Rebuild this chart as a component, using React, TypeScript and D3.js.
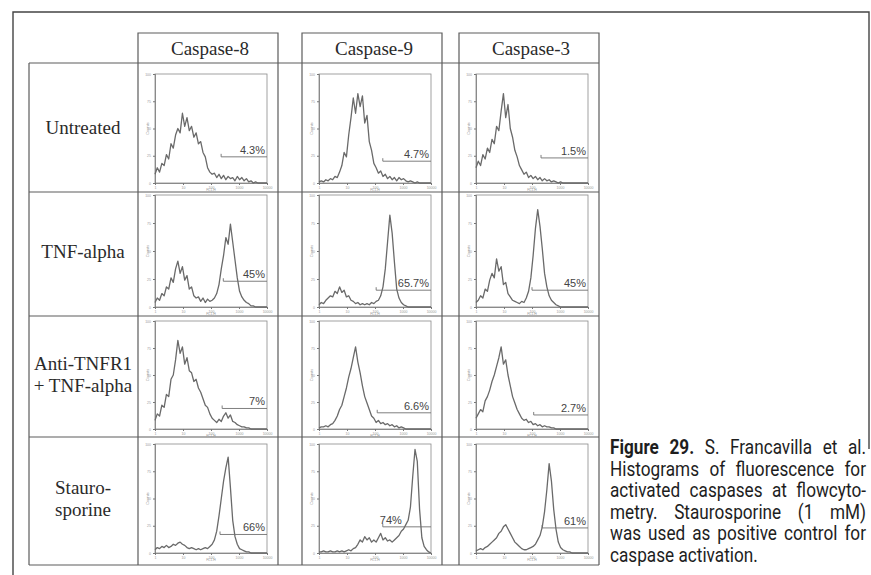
import React, { useEffect, useRef } from 'react';
import * as d3 from 'd3';

const caspases = ['Caspase-8', 'Caspase-9', 'Caspase-3'];
const treatments = [['Untreated'], ['TNF-alpha'], ['Anti-TNFR1', '+ TNF-alpha'], ['Stauro-', 'sporine']];

// events per channel, 50 log-spaced channels from 10^0 to 10^4 (% of full scale)
const untreatedC8 = [8, 14, 10, 18, 16, 26, 22, 36, 32, 44, 50, 46, 64, 52, 60, 48, 52, 42, 46, 36, 38, 28, 24, 14, 10, 8, 9, 5, 8, 4, 7, 3, 6, 4, 5, 2, 6, 3, 5, 2, 4, 1, 2, 0, 1, 0, 0, 0, 0, 0];
const untreatedC9 = [1, 2, 1, 3, 2, 4, 3, 6, 5, 10, 16, 28, 24, 44, 60, 78, 64, 82, 70, 80, 55, 62, 38, 30, 18, 14, 9, 11, 6, 8, 4, 6, 3, 5, 2, 5, 3, 4, 2, 1, 2, 1, 0, 1, 0, 0, 0, 0, 0, 0];
const untreatedC3 = [14, 20, 16, 26, 22, 32, 28, 40, 36, 52, 48, 66, 82, 60, 72, 50, 42, 30, 24, 16, 12, 8, 10, 5, 7, 4, 6, 3, 5, 2, 4, 2, 3, 1, 2, 1, 0, 1, 0, 0, 0, 0, 0, 0, 0, 0, 0, 0, 0, 0];
const tnfC8 = [4, 8, 6, 12, 10, 18, 16, 26, 22, 34, 41, 30, 36, 24, 28, 16, 18, 10, 8, 9, 5, 8, 4, 7, 5, 6, 8, 12, 20, 34, 46, 62, 56, 74, 58, 42, 26, 14, 9, 6, 4, 3, 1, 1, 0, 0, 0, 0, 0, 0];
const tnfC9 = [2, 4, 3, 6, 8, 10, 9, 14, 12, 18, 13, 15, 9, 10, 6, 5, 3, 4, 2, 3, 2, 3, 2, 4, 3, 5, 6, 10, 18, 34, 58, 82, 66, 40, 16, 8, 4, 2, 1, 0, 0, 0, 0, 0, 0, 0, 0, 0, 0, 0];
const tnfC3 = [4, 6, 10, 8, 16, 14, 24, 30, 26, 43, 32, 36, 20, 22, 12, 9, 6, 5, 4, 3, 5, 4, 8, 14, 26, 46, 70, 87, 72, 52, 30, 18, 10, 6, 4, 2, 1, 0, 0, 0, 0, 0, 0, 0, 0, 0, 0, 0, 0, 0];
const antiC8 = [8, 14, 12, 22, 20, 32, 30, 46, 50, 64, 82, 70, 76, 60, 66, 54, 52, 44, 46, 38, 34, 28, 22, 20, 14, 10, 8, 6, 9, 7, 12, 15, 10, 13, 7, 6, 4, 3, 2, 2, 1, 1, 0, 0, 0, 0, 0, 0, 0, 0];
const antiC9 = [1, 2, 2, 3, 2, 4, 5, 8, 12, 18, 22, 30, 38, 48, 56, 66, 76, 62, 52, 40, 30, 24, 18, 12, 10, 6, 8, 5, 6, 4, 5, 3, 4, 2, 3, 1, 2, 1, 0, 0, 0, 0, 0, 0, 0, 0, 0, 0, 0, 0];
const antiC3 = [10, 14, 18, 16, 26, 30, 36, 44, 50, 58, 66, 76, 60, 64, 50, 40, 30, 24, 18, 14, 10, 8, 9, 6, 7, 4, 5, 3, 4, 2, 3, 2, 2, 1, 1, 0, 0, 0, 0, 0, 0, 0, 0, 0, 0, 0, 0, 0, 0, 0];
const stauroC8 = [3, 5, 4, 6, 5, 7, 5, 6, 8, 7, 9, 10, 8, 7, 5, 4, 5, 4, 3, 4, 3, 4, 5, 4, 6, 8, 12, 20, 34, 50, 66, 78, 88, 60, 30, 15, 8, 4, 3, 2, 1, 1, 0, 0, 0, 0, 0, 0, 0, 0];
const stauroC9 = [1, 1, 2, 1, 1, 2, 1, 1, 2, 1, 2, 1, 2, 3, 2, 4, 5, 8, 12, 10, 15, 12, 14, 10, 12, 10, 14, 18, 12, 14, 11, 12, 10, 12, 14, 16, 20, 22, 26, 30, 42, 70, 95, 84, 40, 14, 6, 3, 1, 0];
const stauroC3 = [2, 3, 4, 3, 5, 6, 8, 10, 12, 14, 18, 20, 24, 26, 22, 18, 14, 10, 8, 6, 4, 3, 3, 4, 5, 6, 8, 12, 16, 24, 38, 58, 82, 66, 40, 22, 10, 5, 3, 2, 1, 1, 0, 0, 0, 0, 0, 0, 0, 0];

const counts = [
  [untreatedC8, untreatedC9, untreatedC3],
  [tnfC8, tnfC9, tnfC3],
  [antiC8, antiC9, antiC3],
  [stauroC8, stauroC9, stauroC3],
];

// M1 marker: start channel, drawn height, % positive
const gateStart = [[230, 190, 210], [275, 110, 100], [250, 120, 115], [210, 190, 230]];
const gateLevel = [[24, 20, 23], [23, 15, 15], [19, 15, 13], [17, 24, 23]];
const gatePct = [['4.3%', '4.7%', '1.5%'], ['45%', '65.7%', '45%'], ['7%', '6.6%', '2.7%'], ['66%', '74%', '61%']];

const yTicks = [0, 25, 50, 75, 100];
const xTicks = [1, 10, 100, 1000, 10000];

const captionBold = 'Figure 29.';
const captionLines = [
  'Figure 29. S. Francavilla et al.',
  'Histograms of fluorescence for',
  'activated caspases at flowcyto-',
  'metry. Staurosporine (1 mM)',
  'was used as positive control for',
  'caspase activation.',
];

export default function App() {
  const ref = useRef<SVGSVGElement>(null);

  useEffect(() => {
    const svg = d3.select(ref.current);
    svg.selectAll('*').remove();

    const H = 575;
    const rowY = [63, 192, 316, 437, 565];
    const colX = [[138, 278], [302, 442], [459, 599]];
    const panelTop = [74, 195, 321, 444];
    const panelBottom = [183, 307, 429, 553];
    const grid = '#5c5c5c';
    const serif = "'Liberation Serif', 'Times New Roman', serif";

    // page frame
    svg.append('path')
      .attr('d', `M13,${H} V12 H869 V449`)
      .attr('fill', 'none').attr('stroke', '#444').attr('stroke-width', 1.4);

    // table
    const tbl = svg.append('g').attr('fill', 'none').attr('stroke', grid).attr('stroke-width', 1.2);
    colX.forEach(([x0, x1]) => {
      tbl.append('path').attr('d', `M${x0},${rowY[4]} V33 H${x1} V${rowY[4]}`);
    });
    tbl.append('path').attr('d', `M29,${rowY[0]} V${rowY[4]}`);
    rowY.forEach((y) => {
      tbl.append('line').attr('x1', 29).attr('x2', 599).attr('y1', y).attr('y2', y);
    });

    caspases.forEach((name, c) => {
      svg.append('text')
        .attr('x', (colX[c][0] + colX[c][1]) / 2 + 2).attr('y', 55)
        .attr('text-anchor', 'middle').attr('font-family', serif).attr('font-size', 19)
        .attr('fill', '#2a2a2a').text(name);
    });

    treatments.forEach((lines, r) => {
      const mid = (rowY[r] + rowY[r + 1]) / 2 + (r === 0 ? 0 : -2);
      lines.forEach((ln, k) => {
        svg.append('text')
          .attr('x', 83).attr('y', mid + 6 + (k - (lines.length - 1) / 2) * 22)
          .attr('text-anchor', 'middle').attr('font-family', serif).attr('font-size', 19)
          .attr('fill', '#2a2a2a').text(ln);
      });
    });

    // histograms
    counts.forEach((row, r) => {
      row.forEach((data, c) => {
        const px0 = colX[c][0] + 17, px1 = colX[c][1] - 11;
        const py0 = panelTop[r], py1 = panelBottom[r];
        const x = d3.scaleLog().domain([1, 10000]).range([px0, px1]);
        const y = d3.scaleLinear().domain([0, 100]).range([py1, py0]);
        const channel = (i: number) => Math.pow(10, (i * 4) / (data.length - 1));
        const g = svg.append('g');

        g.append('rect')
          .attr('x', px0).attr('y', py0).attr('width', px1 - px0).attr('height', py1 - py0)
          .attr('fill', 'none').attr('stroke', '#8a8a8a').attr('stroke-width', 0.8);

        const yAxis = g.append('g').attr('transform', `translate(${px0},0)`)
          .call(d3.axisLeft(y).tickValues(yTicks).tickSize(2).tickFormat(d3.format('d')));
        const xAxis = g.append('g').attr('transform', `translate(0,${py1})`)
          .call(d3.axisBottom(x).tickValues(xTicks).tickSize(2).tickFormat(d3.format('d')));
        [yAxis, xAxis].forEach((a) => {
          a.attr('color', '#777').attr('font-size', 3.5).attr('font-family', 'Arial, sans-serif');
          a.select('.domain').attr('stroke-width', 0.8);
          a.selectAll('.tick text').attr('fill', '#999');
        });
        yAxis.selectAll('.tick text').attr('dx', 1);
        xAxis.selectAll('.tick text').attr('dy', '0.2em');

        g.append('text')
          .attr('transform', `translate(${px0 - 6},${(py0 + py1) / 2}) rotate(-90)`)
          .attr('text-anchor', 'middle').attr('font-size', 4).attr('fill', '#999')
          .attr('font-family', 'Arial, sans-serif').text('Counts');
        g.append('text')
          .attr('x', (px0 + px1) / 2).attr('y', py1 + 8)
          .attr('text-anchor', 'middle').attr('font-size', 3.5).attr('fill', '#999')
          .attr('font-family', 'Arial, sans-serif').text('FL1-H');

        const line = d3.line<number>()
          .x((d, i) => x(channel(i)))
          .y((d) => y(d));
        g.append('path').datum(data)
          .attr('d', line)
          .attr('fill', 'none').attr('stroke', '#6a6a6a').attr('stroke-width', 1.3)
          .attr('stroke-linejoin', 'round');

        // M1 marker
        const gx = x(gateStart[r][c]);
        const gy = y(gateLevel[r][c]);
        g.append('path')
          .attr('d', `M${gx},${gy - 3} V${gy} H${px1}`)
          .attr('fill', 'none').attr('stroke', '#707070').attr('stroke-width', 0.9);
        const atStart = r === 3 && c === 1;
        g.append('text')
          .attr('x', atStart ? gx - 3 : px1 - 2).attr('y', gy - 3)
          .attr('text-anchor', atStart ? 'start' : 'end')
          .attr('font-family', "'Liberation Sans', Arial, sans-serif").attr('font-size', 11)
          .attr('fill', '#444').text(gatePct[r][c]);
      });
    });

    // caption, justified to the column width
    const capW = 256, sx = 0.86;
    const cap = svg.append('g')
      .attr('font-family', 'Roboto, Arial, sans-serif').attr('font-size', 20).attr('fill', '#1e1e1e');
    captionLines.forEach((ln, i) => {
      const t = cap.append('text').attr('transform', `translate(610,${454 + i * 21.6}) scale(${sx},1)`);
      if (ln.startsWith(captionBold)) {
        t.append('tspan').attr('font-weight', 'bold').text(captionBold);
        t.append('tspan').text(ln.slice(captionBold.length));
      } else {
        t.text(ln);
      }
      if (i < captionLines.length - 1) {
        const w = (t.node() as SVGTextElement).getComputedTextLength();
        const spaces = ln.split(' ').length - 1;
        t.attr('word-spacing', (capW / sx - w) / spaces);
      }
    });
  }, []);

  return (
    <svg ref={ref} width={871} height={575}
      style={{ position: 'absolute', left: 0, top: 0, background: '#fff' }} />
  );
}
